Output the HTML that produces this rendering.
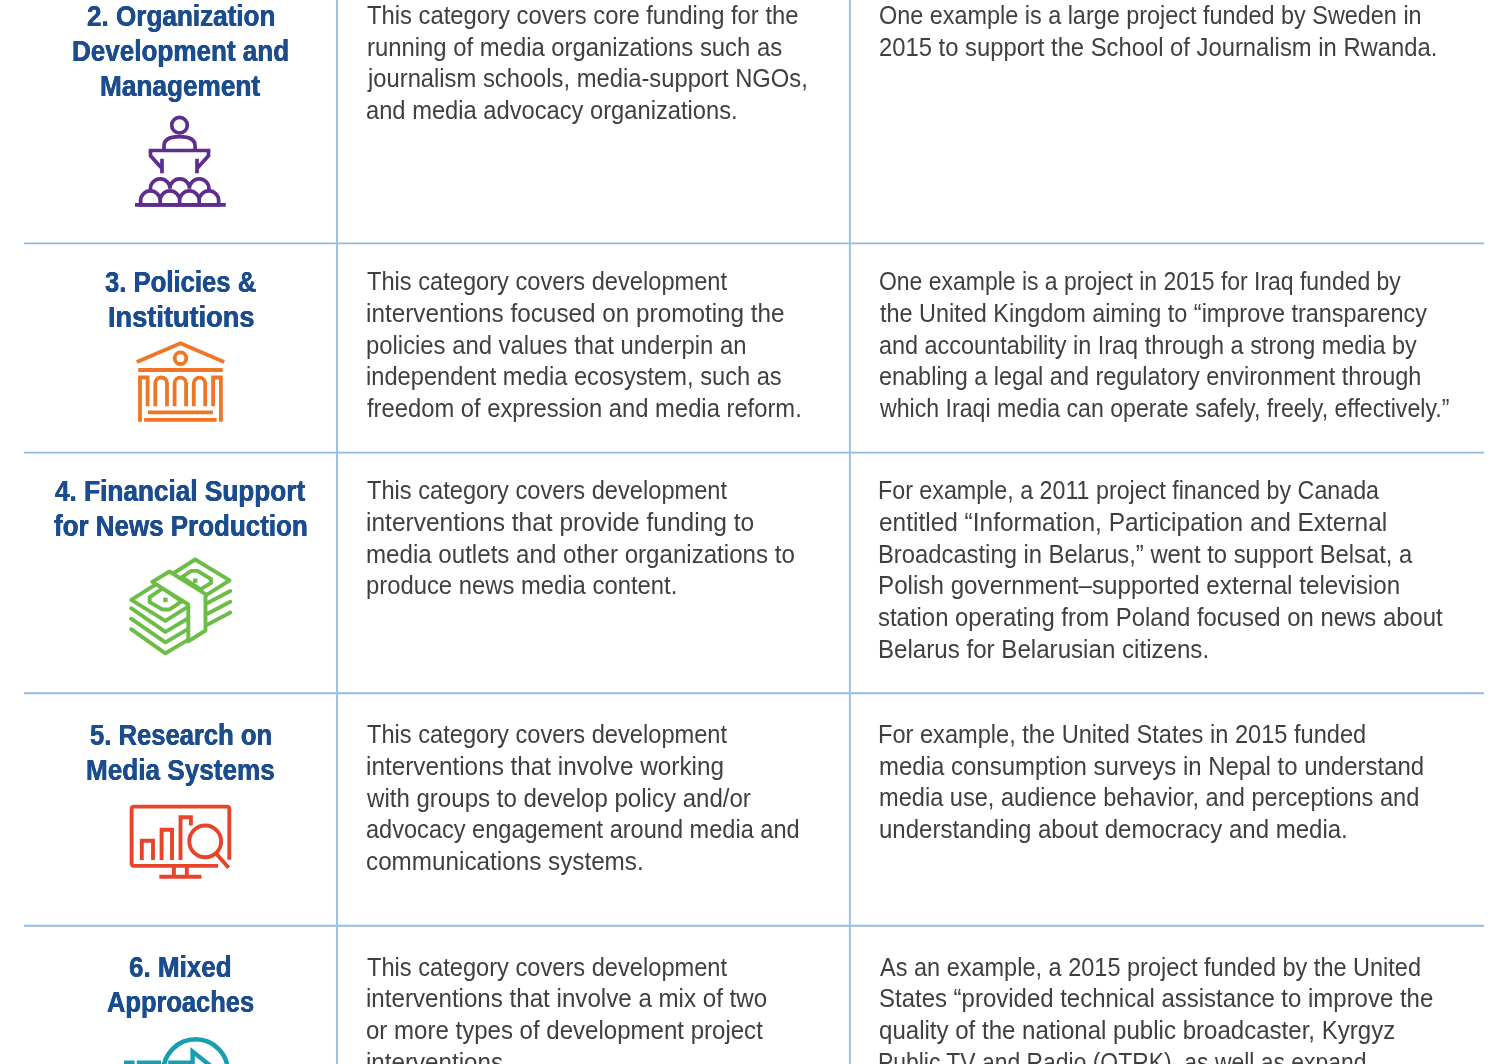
<!DOCTYPE html>
<html lang="en">
<head>
<meta charset="utf-8">
<title>Media development funding categories</title>
<style>
html,body{margin:0;padding:0;background:#fff;}
body{width:1502px;height:1064px;overflow:hidden;position:relative;font-family:"Liberation Sans",sans-serif;}
.page{position:absolute;left:0;top:0;width:1502px;height:1064px;overflow:hidden;background:#fff;}
svg.rules{position:absolute;left:0;top:0;}
.row,.cell,h3,p{margin:0;padding:0;position:static;font-weight:normal;font-size:inherit;}
.b,.h{position:absolute;display:block;white-space:nowrap;transform-origin:0 0;}
.b{font-size:26px;line-height:32px;color:#3f3f3f;}
.h{font-size:30px;line-height:34px;font-weight:bold;color:#1b4d8e;text-shadow:0.35px 0 0 #1b4d8e,-0.35px 0 0 #1b4d8e;}
svg.ico{position:absolute;left:0;top:0;overflow:visible;pointer-events:none;}

</style>
</head>
<body>
<main class="page">
<svg class="rules" width="1502" height="1064" viewBox="0 0 1502 1064" fill="none">
<g stroke="#96bbdc" stroke-width="1.9">
<path d="M24 243.4H1484M24 452.6H1484M24 693.2H1484M24 925.7H1484"/>
</g>
<g stroke="#9cc1e1" stroke-width="2">
<path d="M337 0V1064M849.9 0V1064"/>
</g>
</svg>
<section class="row r1">
<div class="cell c1">
<h3>
<span class="h" style="left:86.72px;top:-1.10px;transform:scaleX(0.8696)">2. Organization</span>
<span class="h" style="left:72.26px;top:34.00px;transform:scaleX(0.8682)">Development and</span>
<span class="h" style="left:100.25px;top:68.80px;transform:scaleX(0.8734)">Management</span>
</h3>
<svg class="ico" style="left:120px;top:100px" width="120" height="120" viewBox="120 100 120 120" fill="none" stroke="#5f2c8f" stroke-width="3.7">
<circle cx="179.5" cy="125.2" r="7.8"/>
<path d="M164 150.5V146C164 139.8 169.5 136.6 179.5 136.6C189.6 136.6 195.1 139.8 195.1 146V150.5"/>
<path d="M148.8 150.5H210.3"/>
<path d="M150.5 150.5V155.7L162 168.6M162 158.8V173.2M208.5 150.5V155.7L197 168.6M197 158.8V173.2" stroke-linejoin="miter"/>
<path d="M150.45 191.5V188.7A9.75 9.75 0 0 1 169.95 188.7A9.75 9.75 0 0 1 189.45 188.7A9.75 9.75 0 0 1 208.95 188.7V191.5"/>
<path d="M140.65 204.8V200.6A9.75 9.75 0 0 1 160.15 200.6V204.8ZM160.15 204.8V200.6A9.75 9.75 0 0 1 179.65 200.6V204.8ZM179.65 204.8V200.6A9.75 9.75 0 0 1 199.15 200.6V204.8ZM199.15 204.8V200.6A9.75 9.75 0 0 1 218.65 200.6V204.8Z" fill="#fff"/>
<path d="M135 204.8H225.8"/>
</svg>
</div>
<div class="cell c2"><p>
<span class="b" style="left:366.90px;top:-1.01px;transform:scaleX(0.9159)">This category covers core funding for the</span>
<span class="b" style="left:366.68px;top:30.69px;transform:scaleX(0.9176)">running of media organizations such as</span>
<span class="b" style="left:368.21px;top:62.39px;transform:scaleX(0.9140)">journalism schools, media-support NGOs,</span>
<span class="b" style="left:366.39px;top:94.09px;transform:scaleX(0.9118)">and media advocacy organizations.</span>
</p></div>
<div class="cell c3"><p>
<span class="b" style="left:878.70px;top:-1.01px;transform:scaleX(0.9003)">One example is a large project funded by Sweden in</span>
<span class="b" style="left:878.68px;top:30.69px;transform:scaleX(0.9154)">2015 to support the School of Journalism in Rwanda.</span>
</p></div>
</section>
<section class="row r2">
<div class="cell c1">
<h3>
<span class="h" style="left:105.00px;top:264.90px;transform:scaleX(0.8558)">3. Policies &amp;</span>
<span class="h" style="left:107.78px;top:300.00px;transform:scaleX(0.9059)">Institutions</span>
</h3>
<svg class="ico" style="left:125px;top:335px" width="110" height="95" viewBox="125 335 110 95" fill="none" stroke="#ee7624" stroke-width="3.8">
<path d="M136.75 362L180.5 343.2L224.2 362"/>
<circle cx="180.5" cy="358.2" r="5.8"/>
<path d="M138.2 370H222.8"/>
<path d="M140 421.7V377.5H147.6V406.2M220.9 421.7V377.5H213.1V406.2"/>
<path d="M155.3 406.2V383.35A5.85 5.85 0 0 1 167 383.35V406.2M174.6 406.2V383.35A5.75 5.75 0 0 1 186.1 383.35V406.2M193.8 406.2V383.35A5.7 5.7 0 0 1 205.2 383.35V406.2"/>
<path d="M148 412.3H212.9M144.1 419.8H216.7"/>
</svg>
</div>
<div class="cell c2"><p>
<span class="b" style="left:367.20px;top:265.19px;transform:scaleX(0.9094)">This category covers development</span>
<span class="b" style="left:366.37px;top:296.89px;transform:scaleX(0.9342)">interventions focused on promoting the</span>
<span class="b" style="left:366.38px;top:328.59px;transform:scaleX(0.9173)">policies and values that underpin an</span>
<span class="b" style="left:366.29px;top:360.29px;transform:scaleX(0.9102)">independent media ecosystem, such as</span>
<span class="b" style="left:367.30px;top:391.99px;transform:scaleX(0.9144)">freedom of expression and media reform.</span>
</p></div>
<div class="cell c3"><p>
<span class="b" style="left:878.72px;top:265.19px;transform:scaleX(0.8827)">One example is a project in 2015 for Iraq funded by</span>
<span class="b" style="left:879.60px;top:296.89px;transform:scaleX(0.9010)">the United Kingdom aiming to “improve transparency</span>
<span class="b" style="left:878.70px;top:328.59px;transform:scaleX(0.9010)">and accountability in Iraq through a strong media by</span>
<span class="b" style="left:878.70px;top:360.29px;transform:scaleX(0.9019)">enabling a legal and regulatory environment through</span>
<span class="b" style="left:880.49px;top:391.99px;transform:scaleX(0.8901)">which Iraqi media can operate safely, freely, effectively.”</span>
</p></div>
</section>
<section class="row r3">
<div class="cell c1">
<h3>
<span class="h" style="left:55.00px;top:473.90px;transform:scaleX(0.8727)">4. Financial Support</span>
<span class="h" style="left:54.00px;top:509.00px;transform:scaleX(0.8650)">for News Production</span>
</h3>
<svg class="ico" style="left:120px;top:550px" width="120" height="115" viewBox="120 550 120 115" fill="none" stroke="#6cbd45" stroke-width="3.9" stroke-linejoin="round" stroke-linecap="round">
<path d="M131.3 599.9L195.2 559.5L229.6 580.3L165.4 620.9Z"/>
<path d="M131.1 608.2L165.4 631.9L188.3 618.3M131.1 618.7L165.4 642.4L188.3 628.9M131.1 629.2L165.4 653.3L188.3 639.6"/>
<path d="M207.5 603L230.3 591.1M207.5 613.8L230.3 601.7M207.5 624.6L230.3 612.5"/>
<path d="M149.7 597.1L162.7 588.3L181.9 601.3L169.5 609.5H162.5L149.7 602.2Z" stroke-linejoin="miter"/>
<path d="M181.8 577.1L191.2 570.9H197.6L211 579.2V582.9L200.6 589.3Z" stroke-linejoin="miter"/>
<rect x="163.2" y="597.7" width="4.4" height="4.4" fill="#6cbd45" stroke="none"/>
<rect x="193" y="578.5" width="4.4" height="4.4" fill="#6cbd45" stroke="none"/>
<path d="M152.3 581.8L169.5 571.5L205.5 594.2V630.5L188.3 641.4V604.5Z" fill="#fff"/>
</svg>
</div>
<div class="cell c2"><p>
<span class="b" style="left:367.20px;top:474.29px;transform:scaleX(0.9094)">This category covers development</span>
<span class="b" style="left:366.26px;top:505.99px;transform:scaleX(0.9423)">interventions that provide funding to</span>
<span class="b" style="left:366.37px;top:537.69px;transform:scaleX(0.9272)">media outlets and other organizations to</span>
<span class="b" style="left:366.38px;top:569.39px;transform:scaleX(0.9164)">produce news media content.</span>
</p></div>
<div class="cell c3"><p>
<span class="b" style="left:877.81px;top:474.29px;transform:scaleX(0.8942)">For example, a 2011 project financed by Canada</span>
<span class="b" style="left:878.66px;top:505.99px;transform:scaleX(0.9402)">entitled “Information, Participation and External</span>
<span class="b" style="left:877.77px;top:537.69px;transform:scaleX(0.9150)">Broadcasting in Belarus,” went to support Belsat, a</span>
<span class="b" style="left:877.74px;top:569.39px;transform:scaleX(0.9311)">Polish government–supported external television</span>
<span class="b" style="left:878.20px;top:601.09px;transform:scaleX(0.9193)">station operating from Poland focused on news about</span>
<span class="b" style="left:877.74px;top:632.79px;transform:scaleX(0.9277)">Belarus for Belarusian citizens.</span>
</p></div>
</section>
<section class="row r4">
<div class="cell c1">
<h3>
<span class="h" style="left:89.99px;top:717.90px;transform:scaleX(0.8534)">5. Research on</span>
<span class="h" style="left:85.56px;top:753.00px;transform:scaleX(0.8707)">Media Systems</span>
</h3>
<svg class="ico" style="left:120px;top:795px" width="120" height="90" viewBox="120 795 120 90" fill="none" stroke="#e8442b" stroke-width="3.9">
<path d="M229.3 859.7V808.8a2.2 2.2 0 0 0 -2.2 -2.2H133.8a2.2 2.2 0 0 0 -2.2 2.2V863.7a2.2 2.2 0 0 0 2.2 2.2H218.1"/>
<path d="M173.9 867V875.5M186.8 867V875.5M159.3 876.8H201.4"/>
<path d="M141.8 860V840.7H153V860M161.6 860V829.8H172V860M180.5 860V817.2H190.9V825.6"/>
<circle cx="205.2" cy="841.4" r="15.9"/>
<path d="M216 853.4L228.7 867.7"/>
</svg>
</div>
<div class="cell c2"><p>
<span class="b" style="left:367.20px;top:718.19px;transform:scaleX(0.9094)">This category covers development</span>
<span class="b" style="left:366.37px;top:749.89px;transform:scaleX(0.9348)">interventions that involve working</span>
<span class="b" style="left:366.82px;top:781.59px;transform:scaleX(0.9254)">with groups to develop policy and/or</span>
<span class="b" style="left:366.39px;top:813.29px;transform:scaleX(0.9063)">advocacy engagement around media and</span>
<span class="b" style="left:366.37px;top:844.99px;transform:scaleX(0.9330)">communications systems.</span>
</p></div>
<div class="cell c3"><p>
<span class="b" style="left:877.78px;top:717.99px;transform:scaleX(0.9079)">For example, the United States in 2015 funded</span>
<span class="b" style="left:878.68px;top:749.69px;transform:scaleX(0.9223)">media consumption surveys in Nepal to understand</span>
<span class="b" style="left:878.69px;top:781.39px;transform:scaleX(0.9073)">media use, audience behavior, and perceptions and</span>
<span class="b" style="left:878.68px;top:813.09px;transform:scaleX(0.9240)">understanding about democracy and media.</span>
</p></div>
</section>
<section class="row r5">
<div class="cell c1">
<h3>
<span class="h" style="left:128.93px;top:950.20px;transform:scaleX(0.8669)">6. Mixed</span>
<span class="h" style="left:107.40px;top:985.40px;transform:scaleX(0.8483)">Approaches</span>
</h3>
<svg class="ico" style="left:110px;top:1030px" width="140" height="34" viewBox="110 1030 140 34" fill="none" stroke="#189eb0" stroke-width="4">
<circle cx="195.6" cy="1071.6" r="32.3" stroke-width="4.6"/>
<path d="M168.2 1062.6H192.6V1051.6L212 1067" stroke-miterlimit="10" stroke-width="4.4"/>
<path d="M124 1062.5H134.6M136.8 1062.5H161"/>
</svg>
</div>
<div class="cell c2"><p>
<span class="b" style="left:367.20px;top:950.59px;transform:scaleX(0.9094)">This category covers development</span>
<span class="b" style="left:366.27px;top:982.29px;transform:scaleX(0.9284)">interventions that involve a mix of two</span>
<span class="b" style="left:365.98px;top:1013.99px;transform:scaleX(0.9245)">or more types of development project</span>
<span class="b" style="left:366.37px;top:1045.69px;transform:scaleX(0.9292)">interventions.</span>
</p></div>
<div class="cell c3"><p>
<span class="b" style="left:879.60px;top:950.59px;transform:scaleX(0.9041)">As an example, a 2015 project funded by the United</span>
<span class="b" style="left:878.68px;top:982.29px;transform:scaleX(0.9219)">States “provided technical assistance to improve the</span>
<span class="b" style="left:878.67px;top:1013.99px;transform:scaleX(0.9254)">quality of the national public broadcaster, Kyrgyz</span>
<span class="b" style="left:877.84px;top:1045.69px;transform:scaleX(0.8809)">Public TV and Radio (OTRK), as well as expand</span>
</p></div>
</section>
</main>
</body>
</html>
